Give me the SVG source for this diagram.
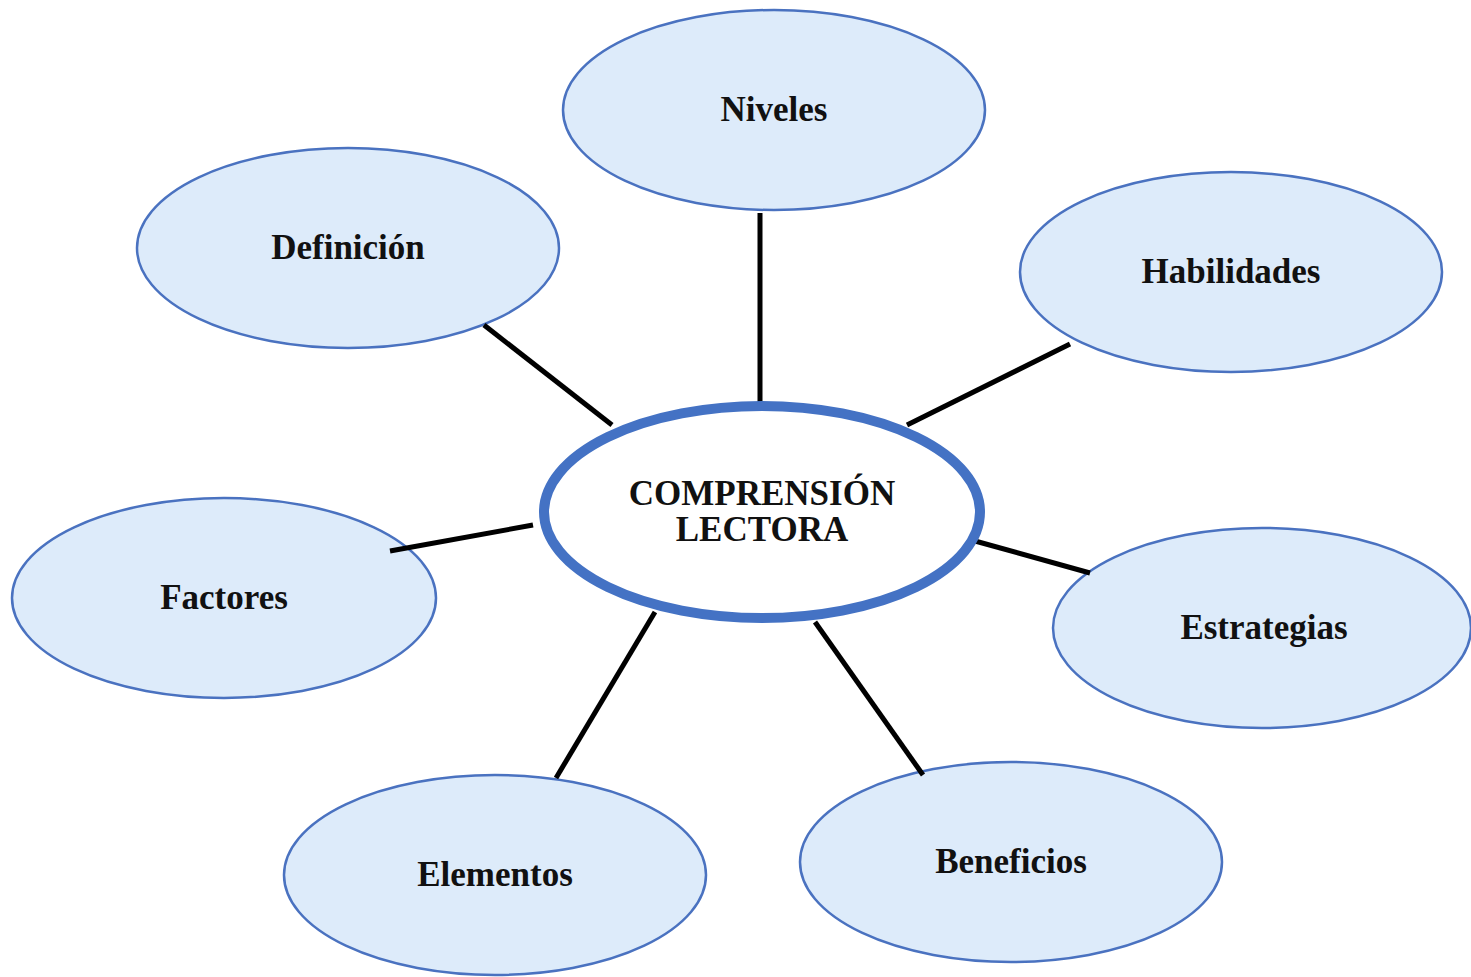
<svg xmlns="http://www.w3.org/2000/svg" width="1471" height="977" viewBox="0 0 1471 977">
<style>
.n{fill:#ddebfa;stroke:#4a72c0;stroke-width:2.5}
.c{fill:#ffffff;stroke:#4472c4;stroke-width:10}
.t{font-family:"Liberation Serif","Times New Roman",serif;font-weight:bold;font-size:35px;fill:#111;text-anchor:middle}
.l{stroke:#000;stroke-width:5;fill:none}
</style>
<rect width="1471" height="977" fill="#ffffff"/>
<g id="niveles"><ellipse class="n" cx="774" cy="110" rx="211" ry="100"/><text class="t" x="774" y="121">Niveles</text></g>
<g id="definicion"><ellipse class="n" cx="348" cy="248" rx="211" ry="100"/><text class="t" x="348" y="259">Definición</text></g>
<g id="habilidades"><ellipse class="n" cx="1231" cy="272" rx="211" ry="100"/><text class="t" x="1231" y="283">Habilidades</text></g>
<g id="factores"><ellipse class="n" cx="224" cy="598" rx="212" ry="100"/><text class="t" x="224" y="609">Factores</text></g>
<g id="estrategias"><ellipse class="n" cx="1262" cy="628" rx="209" ry="100"/><text class="t" x="1264" y="639">Estrategias</text></g>
<g id="elementos"><ellipse class="n" cx="495" cy="875" rx="211" ry="100"/><text class="t" x="495" y="886">Elementos</text></g>
<g id="beneficios"><ellipse class="n" cx="1011" cy="862" rx="211" ry="100"/><text class="t" x="1011" y="873">Beneficios</text></g>
<g id="connectors">
<line class="l" x1="760" y1="213" x2="760" y2="405"/>
<line class="l" x1="484" y1="325" x2="612" y2="425"/>
<line class="l" x1="1070" y1="344" x2="907" y2="425"/>
<line class="l" x1="390" y1="551" x2="533" y2="525"/>
<line class="l" x1="975" y1="541" x2="1090" y2="573"/>
<line class="l" x1="655" y1="612" x2="556" y2="778"/>
<line class="l" x1="815" y1="622" x2="923" y2="775"/>
</g>
<g id="center"><ellipse class="c" cx="762" cy="512" rx="218" ry="106"/><text class="t" x="762" y="505">COMPRENSIÓN</text><text class="t" x="762" y="541">LECTORA</text></g>
</svg>
